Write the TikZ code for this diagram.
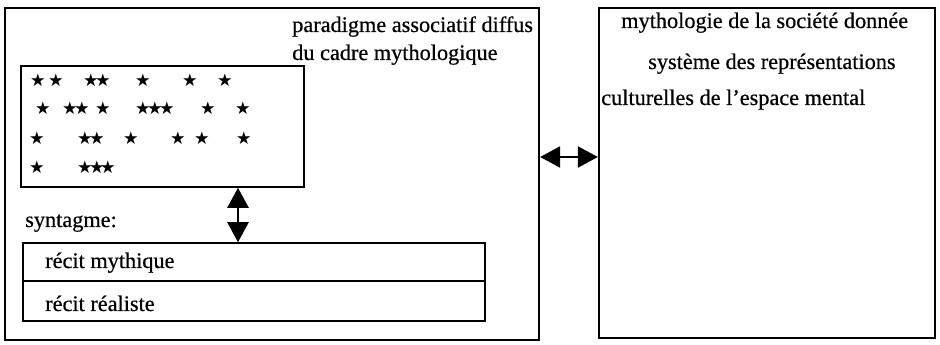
\documentclass[tikz,border=0pt]{standalone}
\usepackage{fontspec}
\setmainfont{Liberation Serif}[FakeBold=0.5]
\newfontfamily\symfont{DejaVu Sans}
\usetikzlibrary{fit,arrows.meta}
\begin{document}
\begin{tikzpicture}[x=0.75pt,y=-0.75pt,
  outerbox/.style={draw,line width=1.8pt,inner sep=0pt},
  innerbox/.style={draw,line width=1.2pt,inner sep=0pt},
  lbl/.style={inner sep=0pt,anchor=base west,font=\fontsize{16.7}{20}\selectfont},
  st/.style={inner sep=0pt,font=\symfont\fontsize{13}{13}\selectfont},
  dbl/.style={line width=0.9pt,{Triangle[width=16pt,length=15pt]}-{Triangle[width=16pt,length=15pt]}}]
\useasboundingbox (0,0) rectangle (940,345);
% boxes
\node[outerbox,fit={(5,8) (539,340)}] (left) {};
\node[outerbox,fit={(599,8) (935,338)}] (right) {};
\node[innerbox,fit={(21,66) (304,187)}] (stars) {};
\node[innerbox,fit={(23,243) (485,281)}] (myth) {};
\node[innerbox,fit={(23,281) (485,321)}] (real) {};
% texts
\node[lbl] (t1) at (292,32) {paradigme associatif diffus};
\node[lbl] (t2) at (292,60) {du cadre mythologique};
\node[lbl] (r1) at (621,28) {mythologie de la société donnée};
\node[lbl] (r2) at (648,69) {système des représentations};
\node[lbl] (r3) at (601,105) {culturelles de l'espace mental};
\node[lbl] (syn) at (25,227) {syntagme:};
\node[lbl] (rm) at (45,268) {récit mythique};
\node[lbl] (rr) at (45,311) {récit réaliste};
% stars
\foreach \x [count=\i] in {38,56,91,103,143,190,225}
  \node[st] (sa\i) at (\x,80) {★};
\foreach \x [count=\i] in {43,70,82,103,143,155,167,208,243}
  \node[st] (sb\i) at (\x,108) {★};
\foreach \x [count=\i] in {37,85,97,131,178,202,244}
  \node[st] (sc\i) at (\x,138) {★};
\foreach \x [count=\i] in {37,85,97,108}
  \node[st] (sd\i) at (\x,167) {★};
% arrows
\coordinate (vx) at (238,0);
\draw[dbl] (stars.south -| vx) -- (myth.north -| vx);
\coordinate (hy) at (0,157);
\draw[dbl] (left.east |- hy) -- (right.west |- hy);
\end{tikzpicture}
\end{document}
